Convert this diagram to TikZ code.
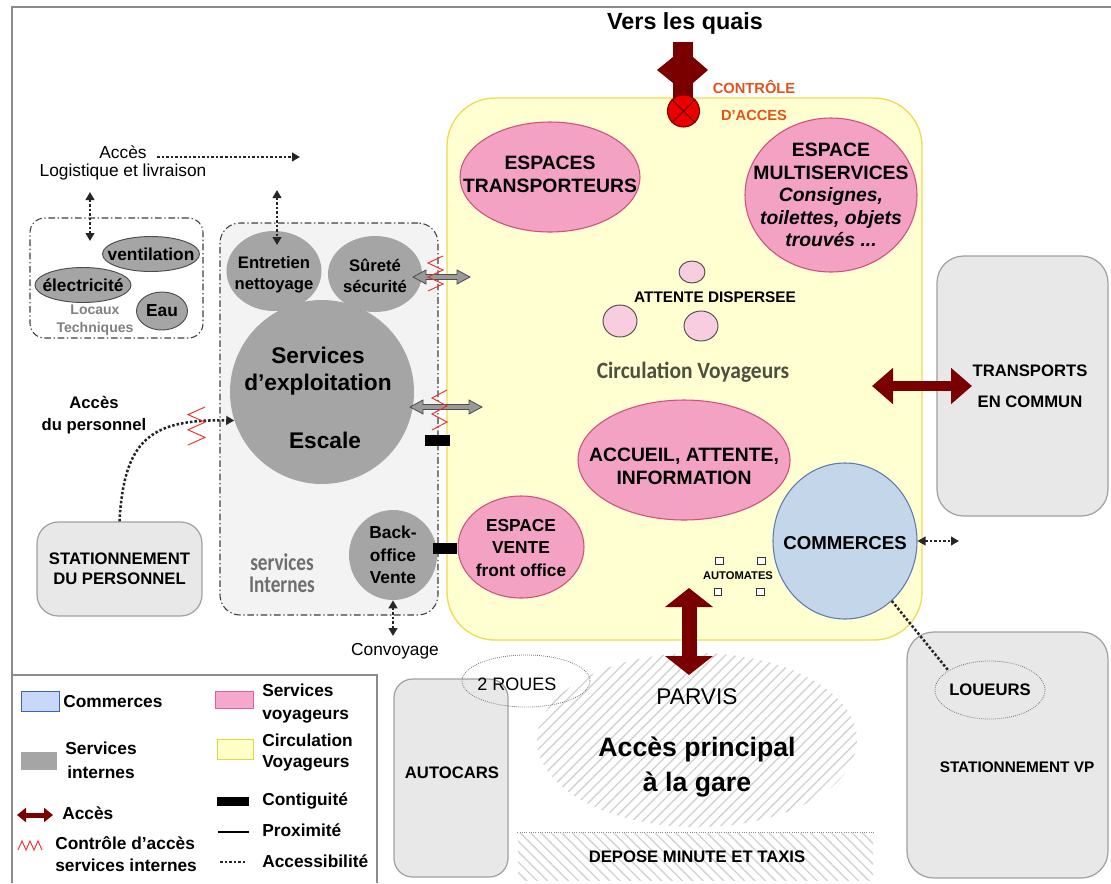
\documentclass[tikz,border=0pt]{standalone}
\usepackage{fontspec}
\setmainfont{Liberation Sans}
\newfontfamily\sifont[FakeStretch=0.8]{Carlito}
\newfontfamily\cvfont[FakeStretch=0.92]{Carlito}
\usetikzlibrary{shapes.geometric,arrows.meta,patterns.meta,calc}
\newcommand\myfs[2]{\fontsize{#1}{#2}\selectfont}
\definecolor{pinkF}{HTML}{F3A2C3}
\definecolor{pinkD}{HTML}{CF4F7D}
\definecolor{attF}{HTML}{F8CDE0}
\definecolor{yelF}{HTML}{FFFFD2}
\definecolor{yelD}{HTML}{EEDC55}
\definecolor{grayC}{HTML}{A5A5A5}
\definecolor{boxF}{HTML}{E8E8E8}
\definecolor{boxD}{HTML}{A0A0A0}
\definecolor{siF}{HTML}{F3F3F3}
\definecolor{blueF}{HTML}{C4D6EA}
\definecolor{blueD}{HTML}{5C7CAE}
\definecolor{darkred}{HTML}{7A0000}
\definecolor{ctrl}{HTML}{E4521B}
\definecolor{zzc}{HTML}{E83030}
\definecolor{cvtext}{HTML}{4F4F3F}
\definecolor{hatchc}{HTML}{D2D2D2}
\definecolor{framec}{HTML}{8C8C8C}
\definecolor{legBlue}{HTML}{C8D8F8}
\definecolor{legBlueD}{HTML}{4060C0}
\definecolor{legPink}{HTML}{F5A8CC}
\definecolor{legPinkD}{HTML}{E060A0}
\definecolor{legYel}{HTML}{FFFFC8}
\definecolor{legYelD}{HTML}{E0D840}
\newcommand\gdbl[3]{\filldraw[fill=gray!80, draw=black!70, line width=0.6pt]
  (#1,#3) -- (#1+13,#3-7) -- (#1+13,#3-2.5) -- (#2-13,#3-2.5) -- (#2-13,#3-7) -- (#2,#3)
  -- (#2-13,#3+7) -- (#2-13,#3+2.5) -- (#1+13,#3+2.5) -- (#1+13,#3+7) -- cycle;}
\newcommand\zig[4]{\draw[zzc, line width=0.7pt] (#1+#3,#2) -- (#1,#2+#4*0.2) -- (#1+#3,#2+#4*0.4)
  -- (#1,#2+#4*0.6) -- (#1+#3,#2+#4*0.8) -- (#1,#2+#4);}
\begin{document}
\begin{tikzpicture}[x=0.75pt,y=-0.75pt,
  lbl/.style={inner sep=0pt, align=center},
  pinkell/.style={ellipse, fill=pinkF, draw=pinkD, line width=0.8pt, inner sep=0pt},
  ptxt/.style={lbl, font=\bfseries\myfs{14.5}{17.25}},
  grayell/.style={ellipse, fill=grayC, inner sep=0pt},
  gtxt/.style={lbl, font=\bfseries\myfs{12.5}{15.75}},
  techell/.style={ellipse, fill=grayC, draw=black!70, line width=0.7pt, inner sep=0pt},
  ttxt/.style={lbl, font=\bfseries\myfs{13}{15}},
  attc/.style={ellipse, fill=attF, draw=black!70, line width=0.7pt, inner sep=0pt},
  graybox/.style={rectangle, rounded corners=16pt, fill=boxF, draw=boxD, line width=0.9pt, inner sep=0pt},
  dashdotbox/.style={rectangle, fill=siF, draw=black!75, line width=0.8pt, dash pattern=on 5pt off 2pt on 1pt off 2pt, inner sep=0pt},
  dotell/.style={ellipse, draw=black!55, line width=0.6pt, dash pattern=on 0.6pt off 0.9pt, inner sep=0pt},
  dotc/.style={line width=1.9pt, dash pattern=on 1.9pt off 1.5pt, black!85},
  dotarr/.style={dotc, -{Triangle[length=6pt,width=6.5pt]}},
  dotdbl/.style={dotc, {Triangle[length=6pt,width=6.5pt]}-{Triangle[length=6pt,width=6.5pt]}},
  legf/.style={inner sep=0pt, font=\bfseries\myfs{13}{17}}
]
\useasboundingbox (0,0) rectangle (1111,883);
\fill[white] (0,0) rectangle (1111,883);
% frame
\draw[framec, line width=1.2pt] (12,883) -- (12,7) -- (1111,7);

% parvis and depose
\node[ellipse, minimum width=240pt, minimum height=130.5pt, inner sep=0pt,
  pattern={Lines[angle=45,distance=5.5pt,line width=1pt]}, pattern color=hatchc] (parv) at (697,740) {};
\node[rectangle, minimum width=266.25pt, minimum height=35.25pt, inner sep=0pt,
  pattern={Lines[angle=-45,distance=5.5pt,line width=1pt]}, pattern color=hatchc] (dep) at (695.5,856.5) {};
\draw[black!45, line width=0.7pt, dash pattern=on 0.7pt off 1pt] (dep.north west) -- (dep.north east);

% main zones
\node[rectangle, rounded corners=36pt, fill=yelF, draw=yelD, line width=1pt, minimum width=356.25pt, minimum height=406.5pt, inner sep=0pt] (circ) at (684.5,369) {};
\node[dashdotbox, rounded corners=15pt, minimum width=163.5pt, minimum height=294pt] (si) at (329,419) {};
\node[dashdotbox, fill=white, rounded corners=11pt, minimum width=129.75pt, minimum height=90pt] (loc) at (116.5,278) {};

% grey boxes
\node[graybox, minimum width=123.75pt, minimum height=70.5pt, align=center, font=\bfseries\myfs{12.5}{15}] (stp) at (119.5,569) {STATIONNEMENT\\DU PERSONNEL};
\node[graybox, rounded corners=20pt, minimum width=128.25pt, minimum height=195pt] (tc) at (1022.5,386) {};
\node[lbl, font=\bfseries\myfs{12.5}{23}] (tct) at (1030,386) {TRANSPORTS\\EN COMMUN};
\node[graybox, rounded corners=20pt, minimum width=150.75pt, minimum height=184.5pt] (svp) at (1007.5,755) {};
\node[lbl, font=\bfseries\myfs{11.5}{14}] (svpt) at (1017,767) {STATIONNEMENT VP};
\node[dotell, minimum width=82.5pt, minimum height=43.5pt] (lou) at (990,690) {};
\node[lbl, font=\bfseries\myfs{12.5}{15}] (lout) at (990,690) {LOUEURS};
\node[graybox, rounded corners=14pt, minimum width=85.5pt, minimum height=148.5pt] (aut) at (451,778) {};
\node[lbl, font=\bfseries\myfs{12.5}{15}] (autt) at (452,773) {AUTOCARS};
\node[dotell, minimum width=96pt, minimum height=39pt] (rou) at (526,681) {};
\node[lbl, font=\myfs{13.5}{16}] (rout) at (517,684) {2 ROUES};

% parvis texts
\node[lbl, font=\myfs{17}{20}] (parvt) at (697,697) {PARVIS};
\node[lbl, font=\bfseries\myfs{20}{26.25}] (apg) at (697,767) {Accès principal\\à la gare};
\node[lbl, font=\bfseries\myfs{12.5}{15}] (dept) at (697,857) {DEPOSE MINUTE ET TAXIS};

% locaux techniques
\node[techell, minimum width=72.75pt, minimum height=26.25pt] (ven1) at (151,254) {};
\node[ttxt] (ven1t) at (151,254) {ventilation};
\node[techell, minimum width=72pt, minimum height=26.25pt] (ele) at (83,285) {};
\node[ttxt] (elet) at (83,285) {électricité};
\node[techell, minimum width=38.25pt, minimum height=28.5pt] (eau) at (162,311) {};
\node[ttxt] (eaut) at (162,311) {Eau};
\node[lbl, text=black!50, font=\bfseries\myfs{10.5}{14}] (loct) at (95,320) {Locaux\\Techniques};

% services internes
\node[grayell, minimum width=71.25pt, minimum height=60pt] (ent) at (274,271) {};
\node[gtxt] (entt) at (274,275) {Entretien\\nettoyage};
\node[grayell, minimum width=70.5pt, minimum height=57pt] (sur) at (375,274) {};
\node[gtxt] (surt) at (375,276) {Sûreté\\sécurité};
\node[circle, fill=grayC, minimum size=138pt, inner sep=0pt] (expl) at (322,392) {};
\node[lbl, font=\bfseries\myfs{17}{20}] (explt) at (318,371) {Services\\d’exploitation};
\node[lbl, font=\bfseries\myfs{17}{20}] (escl) at (325,440) {Escale};
\node[grayell, minimum width=66pt, minimum height=67.5pt] (bo) at (393,555) {};
\node[lbl, font=\bfseries\myfs{13}{17}] (bot) at (393,555) {Back-\\office\\Vente};
\node[lbl, text=black!57, font=\sifont\bfseries\myfs{18}{17}] (sit) at (282,573) {services\\Internes};

% voyageurs
\node[pinkell, minimum width=135pt, minimum height=82.5pt] (tra) at (550,177) {};
\node[ptxt] (trat) at (550,174) {ESPACES\\TRANSPORTEURS};
\node[pinkell, minimum width=129pt, minimum height=115.5pt] (mul) at (831,195) {};
\node[lbl, font=\bfseries\myfs{14.5}{16.9}] (mult) at (831,195) {ESPACE\\MULTISERVICES\\\textit{Consignes,}\\\textit{toilettes, objets}\\\textit{trouvés ...}};
\node[attc, minimum width=19.5pt, minimum height=16.5pt] (a1) at (692,272) {};
\node[attc, minimum width=25.5pt, minimum height=24pt] (a2) at (620,321) {};
\node[attc, minimum width=25.5pt, minimum height=22.5pt] (a3) at (701,326) {};
\node[lbl, font=\bfseries\myfs{11.5}{13}] (attd) at (715,297) {ATTENTE DISPERSEE};
\node[lbl, text=cvtext, font=\cvfont\bfseries\myfs{17.5}{20}] (cv) at (693,372) {Circulation Voyageurs};
\node[pinkell, minimum width=159pt, minimum height=90pt] (acc) at (684,460) {};
\node[ptxt] (acct) at (684,466) {ACCUEIL, ATTENTE,\\INFORMATION};
\node[pinkell, minimum width=94.5pt, minimum height=76.5pt] (vte) at (521,547) {};
\node[lbl, font=\bfseries\myfs{13}{17}] (vtet) at (521,548) {ESPACE\\VENTE\\front office};
\node[ellipse, fill=blueF, draw=blueD, line width=0.8pt, minimum width=108pt, minimum height=117pt, inner sep=0pt] (com) at (845,541) {};
\node[lbl, font=\bfseries\myfs{14}{16}] (comt) at (845,543) {COMMERCES};

% automates
\foreach \n/\px/\py in {am1/719.5/561, am2/761.5/561, am3/718/592, am4/760.5/592}
  \node[rectangle, draw=black!80, fill=white, line width=0.6pt, minimum size=5.5pt, inner sep=0pt] (\n) at (\px,\py) {};
\node[lbl, font=\bfseries\myfs{8.4}{10}] (amt) at (738,576) {AUTOMATES};

% top texts
\node[lbl, font=\bfseries\myfs{17.5}{20}] (vq) at (685,23) {Vers les quais};
\node[lbl, text=ctrl, font=\bfseries\myfs{11}{13}] (ctl1) at (754,87) {CONTRÔLE};
\node[lbl, text=ctrl, font=\bfseries\myfs{11}{13}] (ctl2) at (754,115) {D’ACCES};
\node[lbl, font=\myfs{13}{15}] (accl) at (123,152) {Accès};
\node[lbl, font=\myfs{13}{15}] (logi) at (123,172) {Logistique et livraison};
\node[lbl, font=\bfseries\myfs{12.5}{16}] (accp) at (94,415) {Accès\\du personnel};
\node[lbl, font=\myfs{13}{15}] (cvy) at (395,651) {Convoyage};

% access cross at top
\fill[darkred] (673,42) rectangle (693,100);
\fill[darkred] (657,70) -- (673,57) -- (673,83) -- cycle;
\fill[darkred] (708,70) -- (693,57) -- (693,83) -- cycle;
\node[circle, fill=red!92!black, draw=darkred, line width=0.8pt, minimum size=24pt, inner sep=0pt] (ctr) at (683.5,111) {};
\draw[darkred, line width=0.8pt] (ctr.45) -- (ctr.225) (ctr.135) -- (ctr.-45);

% access arrows
\coordinate (tcL) at (872,386); \coordinate (tcR) at (972,386);
\draw[darkred, line width=7.5pt, {Triangle[length=15.75pt,width=26.25pt]}-{Triangle[length=15.75pt,width=26.25pt]}] (tcL) -- (tcR);
\coordinate (pvT) at (689,588); \coordinate (pvB) at (689,675);
\draw[darkred, line width=11.25pt, {Triangle[length=14.25pt,width=35.25pt]}-{Triangle[length=14.25pt,width=35.25pt]}] (pvT) -- (pvB);

% dotted connectors
\coordinate (lgS) at (157,157); \coordinate (lgE) at (300,157);
\draw[dotarr] (lgS) -- (lgE);
\coordinate (lt1) at (90,192); \coordinate (lt2) at (90,241);
\draw[dotdbl] (lt1) -- (lt2);
\coordinate (en1) at (277,190); \coordinate (en2) at (277,245);
\draw[dotdbl] (en1) -- (en2);
\draw[dotarr] (stp.north) .. controls (124,440) and (150,419) .. (expl.198);
\coordinate (cvyT) at (393,636);
\draw[dotdbl] (bo.south) -- (cvyT);
\coordinate (comR) at (959,541);
\draw[dotdbl] (com.east) -- (comR);
\draw[dotc] (com.-52) -- (lou.155);

% contiguity, controls
\fill[black] (425,435) rectangle (450,446);
\fill[black] (433,543) rectangle (457,554);
\gdbl{413}{470}{277}
\gdbl{410}{482}{407}
\zig{428}{256}{15}{35}
\zig{432}{390}{15}{40}
\zig{188}{407}{17}{38}

% legend
\draw[framec, line width=1.1pt] (12,675) -- (377,675) -- (377,883);
\node[rectangle, fill=legBlue, draw=legBlueD, line width=0.7pt, minimum width=28.5pt, minimum height=15pt, inner sep=0pt] (lg1) at (40,701) {};
\node[legf, anchor=west] (lg1t) at (63,702) {Commerces};
\node[rectangle, fill=grayC, minimum width=27pt, minimum height=13.5pt, inner sep=0pt] (lg2) at (39,761) {};
\node[legf, align=center, font=\bfseries\myfs{13}{18}] (lg2t) at (101,760) {Services\\internes};
\coordinate (la1) at (17,815); \coordinate (la2) at (53,815);
\draw[darkred, line width=3.75pt, {Triangle[length=6.75pt,width=10.5pt]}-{Triangle[length=6.75pt,width=10.5pt]}] (la1) -- (la2);
\node[legf, anchor=west] (lg3t) at (62,813) {Accès};
\draw[zzc, line width=0.7pt] (18,850) -- (22,841) -- (26,850) -- (30,841) -- (34,850) -- (38,841) -- (42,850);
\node[legf, anchor=west, align=left, font=\bfseries\myfs{13}{16.5}] (lg4t) at (55,854) {Contrôle d’accès\\services internes};
\node[rectangle, fill=legPink, draw=legPinkD, line width=0.7pt, minimum width=28.5pt, minimum height=12.75pt, inner sep=0pt] (lg5) at (234,699.5) {};
\node[legf, anchor=west, align=left] (lg5t) at (262,703.5) {Services\\voyageurs};
\node[rectangle, fill=legYel, draw=legYelD, line width=0.7pt, minimum width=27pt, minimum height=15pt, inner sep=0pt] (lg6) at (235,749) {};
\node[legf, anchor=west, align=left, font=\bfseries\myfs{13}{15.75}] (lg6t) at (262,752.5) {Circulation\\Voyageurs};
\fill[black] (217,797) rectangle (249,806);
\node[legf, anchor=west] (lg7t) at (262,801) {Contiguité};
\draw[black, line width=1.5pt] (218,832) -- (249,832);
\node[legf, anchor=west] (lg8t) at (262,830) {Proximité};
\draw[dotc] (220,862) -- (247,862);
\node[legf, anchor=west] (lg9t) at (262,861) {Accessibilité};
\end{tikzpicture}
\end{document}
